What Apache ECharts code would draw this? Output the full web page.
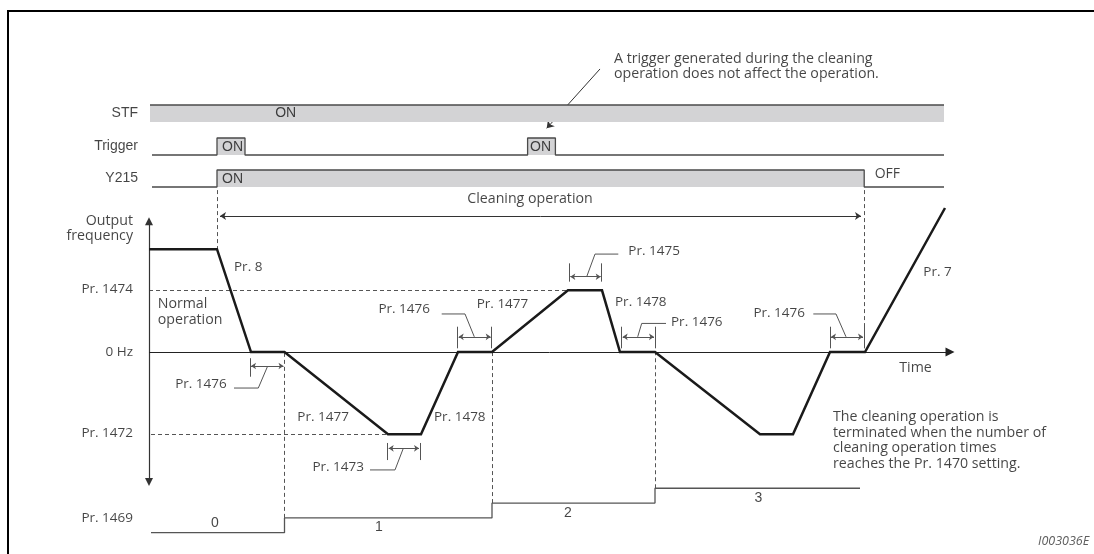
<!DOCTYPE html>
<html>
<head>
<meta charset="utf-8">
<script src="https://cdn.jsdelivr.net/npm/echarts@6/dist/echarts.min.js"></script>
<style>html,body{margin:0;padding:0;background:#fff}#c{width:1094px;height:554px}</style>
</head>
<body>
<div id="c"></div>
<script>
// ---------- data (time in diagram units, frequency in Hz-like units) ----------
const timeRange = [-74.5, 472.5];
const signalNames = ['STF', 'Trigger', 'Y215'];
const stfSignal = [[0.5, 1], [397.5, 1]];
const triggerSignal = [[1.5, 0], [34, 0], [34, 1], [48, 1], [48, 0], [189.3, 0], [189.3, 1], [203.2, 1], [203.2, 0], [397.5, 0]];
const y215Signal = [[1.5, 0], [34, 0], [34, 1], [357.6, 1], [357.6, 0], [397.5, 0]];
const freqRange = [-91.35, 83.6];
const outputFrequency = [[0, 50], [34, 50], [51, 0], [67.75, 0], [119.5, -40], [136, -40], [154.5, 0], [171.5, 0], [209.5, 30], [226.5, 30], [235.5, 0], [253, 0], [305.5, -40], [322, -40], [340.5, 0], [358, 0], [398, 70]];
const pr1474 = 30;
const pr1472 = -40;
const countRange = [0, 12.2];
const cleaningCount = [[1, 0], [67.75, 0], [67.75, 1], [171.5, 1], [171.5, 2], [253, 2], [253, 3], [355.5, 3]];
const cycleStarts = [[67.75, 1], [171.5, 2], [253, 3]];
const countLabels = [['0', 33, 0.63], ['1', 115, 0.4], ['2', 209.5, 1.35], ['3', 304.65, 2.32]];
const cleaningStart = 34, cleaningEnd = 357.5;
const bracketTicks = [[50.5, -3, -12], [119.35, -44.2, -52.5], [135.5, -44.2, -52.5], [154.35, 12.3, 1.8], [171.35, 12.3, 1.8], [210.15, 43.1, 34.2], [226.35, 43.1, 34.2], [236.35, 12.3, 1.8], [253, 12.3, 1.8], [340.5, 12.3, 1.8], [357.5, 12.3, 1.8]];
const bracketSpans = [[50.5, 67.75, -6.8], [119.35, 135.5, -46.8], [154.35, 171.35, 7.4], [210.15, 226.35, 36.6], [236.35, 253, 7.4], [340.5, 357.5, 7.4]];
const leaders = [
  [[42.5, -17.5], [54.65, -17.5], [59.35, -6.8]],
  [[110.5, -57.3], [123, -57.3], [127.15, -46.8]],
  [[146.35, 18.5], [158, 18.5], [162.65, 7.4]],
  [[218.85, 36.6], [223, 47.6], [234.65, 47.6]],
  [[244.35, 7.4], [246.35, 13.9], [258.5, 13.9]],
  [[348.5, 7.4], [343.5, 18.5], [332.15, 18.5]]
];
const freqTexts = [
  ['Output\nfrequency', -8, 60.1, 'r'], ['Pr. 1474', -8, 30.5, 'r'], ['0 Hz', -8, 0, 'r'], ['Pr. 1472', -8, -39.5, 'r'],
  ['Pr. 8', 42.5, 41.4, 'l'], ['Normal\noperation', 4.35, 19.4, 'l'],
  ['Pr. 1476', 38.85, -15.5, 'r'], ['Pr. 1477', 74.15, -31.7, 'l'], ['Pr. 1478', 142.5, -31.7, 'l'], ['Pr. 1473', 107.5, -55.9, 'r'],
  ['Pr. 1476', 140.5, 20.7, 'r'], ['Pr. 1477', 163.85, 23.3, 'l'], ['Pr. 1475', 239.65, 49.2, 'l'], ['Pr. 1478', 233, 24, 'l'],
  ['Pr. 1476', 261, 14.7, 'l'], ['Pr. 1476', 328, 18.8, 'r'], ['Pr. 7', 387.15, 39, 'l'], ['Time', 375.15, -7.6, 'l'],
  ['Cleaning operation', 190.5, 74.3, 'c'],
  ['The cleaning operation is\nterminated when the number of\ncleaning operation times\nreaches the Pr. 1470 setting.', 342, -43, 'l']
];
const onLabels = [[1, 'ON', 68.35, 0.5, 'c', 'arial'], [2, 'ON', 36.5, 0.45, 'l', 'arial'], [2, 'ON', 190.5, 0.45, 'l', 'arial'], [3, 'ON', 36.5, 0.47, 'l', 'arial'], [3, 'OFF', 362.85, 0.78, 'l', 'myriad']];
const triggerNote = ['A trigger generated during the cleaning\noperation does not affect the operation.', 232.5, 5.19];
const triggerNoteArrow = [[225.5, 5.06], [198.85, 1.57]];
const figureId = ['I003036E', 444.5, -0.61];

// ---------- build ----------
const MY = '"Open Sans", "Noto Sans", sans-serif';
const AR = '"Liberation Sans", Arial, sans-serif';
const rows = [{top: 105}, {top: 138}, {top: 170}];
const grids = [
  {left: 8, top: 11, width: 1300, height: 800, outerBoundsMode: 'none', containLabel: false, show: true, borderColor: '#000', borderWidth: 2, backgroundColor: 'transparent'},
  ...rows.map(r => ({left: 0, right: 0, top: r.top, height: 17})),
  {left: 0, right: 0, top: 180, height: 360},
  {left: 0, right: 0, top: 352, height: 180.7}
];
const xAxes = grids.map((g, i) => ({gridIndex: i, type: 'value', min: timeRange[0], max: timeRange[1], show: false}));
const yAxes = [
  {gridIndex: 0, type: 'value', min: 0, max: 1, show: false},
  {gridIndex: 1, type: 'value', min: 0, max: 1, show: false},
  {gridIndex: 2, type: 'value', min: 0, max: 1, show: false},
  {gridIndex: 3, type: 'value', min: 0, max: 1, show: false},
  {gridIndex: 4, type: 'value', min: freqRange[0], max: freqRange[1], show: false},
  {gridIndex: 5, type: 'value', min: countRange[0], max: countRange[1], show: false}
];
function ax(i) { return {xAxisIndex: i, yAxisIndex: i}; }
function textItem(t, x, y, anchor, font, size, extra) {
  const pos = anchor === 'l' ? 'right' : anchor === 'r' ? 'left' : 'inside';
  return {value: [x, y], label: Object.assign({show: true, formatter: t, position: pos, distance: 0,
    align: anchor === 'l' ? 'left' : anchor === 'r' ? 'right' : 'center', verticalAlign: 'middle',
    fontFamily: font === 'arial' ? AR : MY, fontSize: size || 13, color: '#151515', lineHeight: 15.3}, extra || {})};
}
const textSeries = (i, data) => Object.assign({type: 'scatter', symbolSize: 0, clip: false, silent: true, z: 20, data}, ax(i));

const series = [];
// frame dummy
series.push(Object.assign({type: 'line', data: [], silent: true}, ax(0)));
// signal rows
[stfSignal, triggerSignal, y215Signal].forEach((d, k) => {
  series.push(Object.assign({type: 'line', data: d, showSymbol: false, silent: true, clip: false,
    lineStyle: {color: '#4a4a4a', width: 1.3}, areaStyle: {color: '#d3d3d5', opacity: 1}}, ax(k + 1)));
});
// row names
signalNames.forEach((n, k) => series.push(textSeries(k + 1, [textItem(n, -5.5, 0.5, 'r', 'arial', 14)])));
// ON/OFF labels
onLabels.forEach(o => series.push(textSeries(o[0], [textItem(o[1], o[2], o[3], o[4], o[5], 14)])));
// trigger note
series.push(textSeries(2, [textItem(triggerNote[0], triggerNote[1], triggerNote[2], 'l', 'myriad', 14.2, {lineHeight: 14.7})]));
series.push(Object.assign({type: 'lines', coordinateSystem: 'cartesian2d', clip: false, silent: true, polyline: false,
  symbol: ['none', 'arrow'], symbolSize: 7, lineStyle: {color: '#333', width: 1, opacity: 1},
  data: [{coords: triggerNoteArrow}]}, ax(2)));

// frequency panel
const dashed = {color: '#555', width: 1, type: [4, 3], opacity: 1};
series.push(Object.assign({type: 'lines', coordinateSystem: 'cartesian2d', clip: false, silent: true, lineStyle: dashed,
  data: [
    {coords: [[0, pr1474], [outputFrequency[8][0], pr1474]]},
    {coords: [[1, pr1472], [outputFrequency[4][0], pr1472]]},
    {coords: [[cleaningStart, 78.7], [cleaningStart, outputFrequency[0][1]]]},
    {coords: [[cleaningEnd, 78.7], [cleaningEnd, 0]]}
  ]}, ax(4)));
// axes
series.push(Object.assign({type: 'lines', coordinateSystem: 'cartesian2d', clip: false, silent: true,
  symbol: ['triangle', 'triangle'], symbolSize: [8, 8], lineStyle: {color: '#333', width: 1.2, opacity: 1},
  data: [{coords: [[0, -63.2], [0, 63.5]]}]}, ax(4)));
series.push(Object.assign({type: 'lines', coordinateSystem: 'cartesian2d', clip: false, silent: true,
  symbol: ['none', 'triangle'], symbolSize: [8, 9], lineStyle: {color: '#222', width: 1, opacity: 1},
  data: [{coords: [[0, 0], [400.5, 0]]}]}, ax(4)));
// cleaning operation arrow
series.push(Object.assign({type: 'lines', coordinateSystem: 'cartesian2d', clip: false, silent: true,
  symbol: ['arrow', 'arrow'], symbolSize: 6, lineStyle: {color: '#333', width: 1, opacity: 1},
  data: [{coords: [[35.5, 66.1], [356, 66.1]]}]}, ax(4)));
// brackets
series.push(Object.assign({type: 'lines', coordinateSystem: 'cartesian2d', clip: false, silent: true,
  lineStyle: {color: '#555', width: 1, opacity: 1},
  data: bracketTicks.map(b => ({coords: [[b[0], b[1]], [b[0], b[2]]]}))}, ax(4)));
series.push(Object.assign({type: 'lines', coordinateSystem: 'cartesian2d', clip: false, silent: true,
  symbol: ['arrow', 'arrow'], symbolSize: 5, lineStyle: {color: '#555', width: 1, opacity: 1},
  data: bracketSpans.map(b => ({coords: [[b[0] + 0.5, b[2]], [b[1] - 0.5, b[2]]]}))}, ax(4)));
series.push(Object.assign({type: 'lines', coordinateSystem: 'cartesian2d', clip: false, silent: true, polyline: true,
  lineStyle: {color: '#555', width: 1, opacity: 1},
  data: leaders.map(l => ({coords: l}))}, ax(4)));
// waveform
series.push(Object.assign({type: 'line', data: outputFrequency, showSymbol: false, silent: true, clip: false, z: 10,
  lineStyle: {color: '#1a1a1a', width: 2.5, join: 'miter'}}, ax(4)));
series.push(textSeries(4, freqTexts.map(f => textItem(f[0], f[1], f[2], f[3], 'myriad',
  f[0].startsWith('Pr') || f[0] === '0 Hz' ? 13.5 : 14.2,
  f[0].startsWith('The cleaning') ? {lineHeight: 15.5} : {}))));

// count panel
series.push(Object.assign({type: 'line', data: cleaningCount, showSymbol: false, silent: true, clip: false,
  lineStyle: {color: '#555', width: 1.3}}, ax(5)));
series.push(Object.assign({type: 'lines', coordinateSystem: 'cartesian2d', clip: false, silent: true, lineStyle: dashed,
  data: cycleStarts.map(c => ({coords: [[c[0], c[1]], [c[0], countRange[1]]]}))}, ax(5)));
series.push(textSeries(5, [textItem('Pr. 1469', -8, 0.97, 'r', 'myriad', 13.5)].concat(
  countLabels.map(c => textItem(c[0], c[1], c[2], 'c', 'arial', 14)))));
series.push(textSeries(5, [textItem(figureId[0], figureId[1], figureId[2], 'l', 'myriad', 12.5, {fontStyle: 'italic', color: '#333'})]));

const chart = echarts.init(document.getElementById('c'), null, {renderer: 'canvas'});
chart.setOption({animation: false, backgroundColor: '#fff', grid: grids, xAxis: xAxes, yAxis: yAxes, series});
</script>
</body>
</html>
